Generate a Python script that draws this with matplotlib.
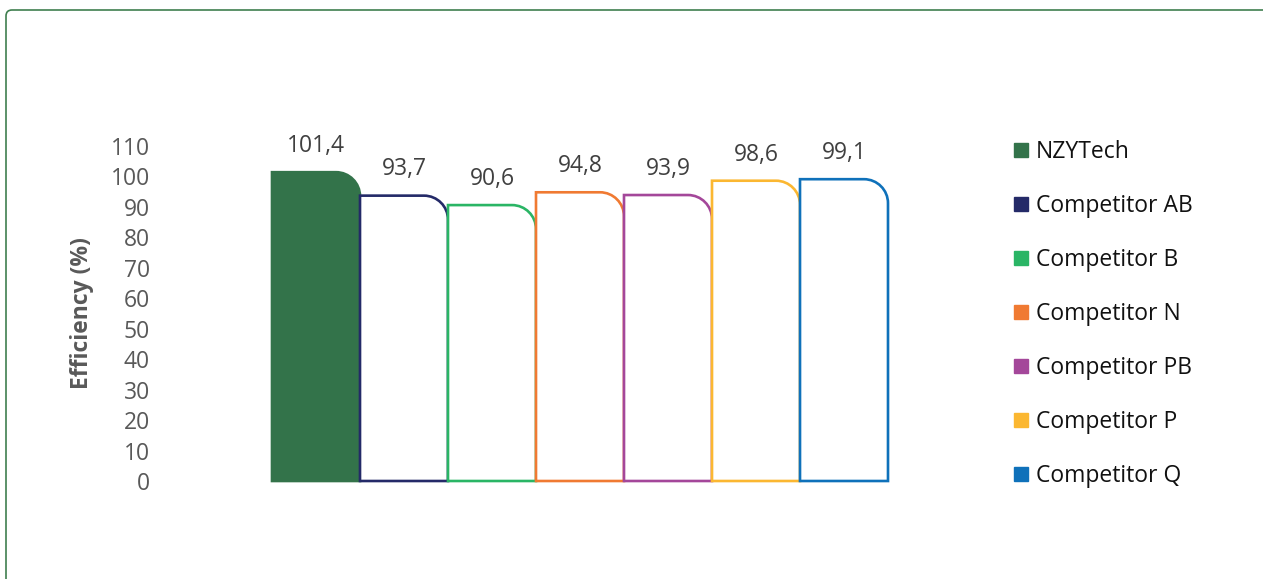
import matplotlib
matplotlib.use("Agg")
import matplotlib.pyplot as plt
from matplotlib.path import Path
from matplotlib.patches import PathPatch, FancyBboxPatch
from matplotlib.lines import Line2D

# ---- data ----
categories = ["NZYTech", "Competitor AB", "Competitor B", "Competitor N",
              "Competitor PB", "Competitor P", "Competitor Q"]
values = [101.4, 93.7, 90.6, 94.8, 93.9, 98.6, 99.1]
colors = ["#33734A", "#242A68", "#2AB565", "#F07A32", "#A4479A", "#FBB731", "#0F71BA"]
yticks = [0, 10, 20, 30, 40, 50, 60, 70, 80, 90, 100, 110]
ylabel = "Efficiency (%)"

plt.rcParams['font.family'] = ['Open Sans', 'DejaVu Sans']

W, H, DPI = 1263, 579, 100
fig = plt.figure(figsize=(W / DPI, H / DPI), dpi=DPI)

# figure border (rounded, cropped at right/bottom)
border = FancyBboxPatch((6, -40), 1300, 579 + 40 - 10,
                        boxstyle="round,pad=0,rounding_size=6",
                        transform=None, fill=False, edgecolor="#3F7F4F", lw=1.2)
fig.patches.append(border)

FS = 16.5

ax_l, ax_r = 272, 888
ax_b, ax_t = 481, 146
ax = fig.add_axes([ax_l / W, (H - ax_b) / H, (ax_r - ax_l) / W, (ax_b - ax_t) / H])
ax.set_xlim(-0.5, len(values) - 0.5)
ax.set_ylim(0, 110)
for s in ax.spines.values():
    s.set_visible(False)
ax.set_xticks([])
ax.set_yticks(yticks)
ax.tick_params(axis='y', length=0, pad=88, labelsize=FS, labelcolor="#595959")
ax.set_ylabel(ylabel, fontsize=FS, fontweight='bold', color="#595959")
ax.yaxis.set_label_coords(-(272 - 94) / (ax_r - ax_l), 0.5)

# pixel-to-data scale for a circular corner
px_per_x = (ax_r - ax_l) / len(values)
px_per_y = (ax_b - ax_t) / 110.0
radius_px = 24
rx = radius_px / px_per_x
ry = radius_px / px_per_y
k = 0.5523

handles = []
for i, (v, c) in enumerate(zip(values, colors)):
    x0, x1 = i - 0.5, i + 0.5
    verts = [(x0, 0), (x0, v), (x1 - rx, v),
             (x1 - rx + k * rx, v), (x1, v - ry + k * ry), (x1, v - ry),
             (x1, 0), (x0, 0)]
    codes = [Path.MOVETO, Path.LINETO, Path.LINETO,
             Path.CURVE4, Path.CURVE4, Path.CURVE4,
             Path.LINETO, Path.CLOSEPOLY]
    filled = (i == 0)
    patch = PathPatch(Path(verts, codes), facecolor=c if filled else "white",
                      edgecolor=c, lw=1.9, zorder=2 + (0 if filled else i),
                      joinstyle='miter', clip_on=False)
    ax.add_patch(patch)
    ax.text(i, v + 8.6, f"{v:.1f}".replace('.', ','), ha='center', va='center',
            fontsize=FS, color="#404040", clip_on=False)
    handles.append(Line2D([], [], marker='s', linestyle='none', markersize=10,
                          markerfacecolor=c, markeredgecolor=c))

leg = fig.legend(handles, categories, loc='upper left',
                 bbox_to_anchor=(1013 / W, (H - 140) / H), frameon=False,
                 fontsize=FS, labelspacing=1.31, handlelength=0.7,
                 handletextpad=0.3, borderaxespad=0, borderpad=0)
for t in leg.get_texts():
    t.set_color("#111111")

fig.savefig("out.png", dpi=DPI)
